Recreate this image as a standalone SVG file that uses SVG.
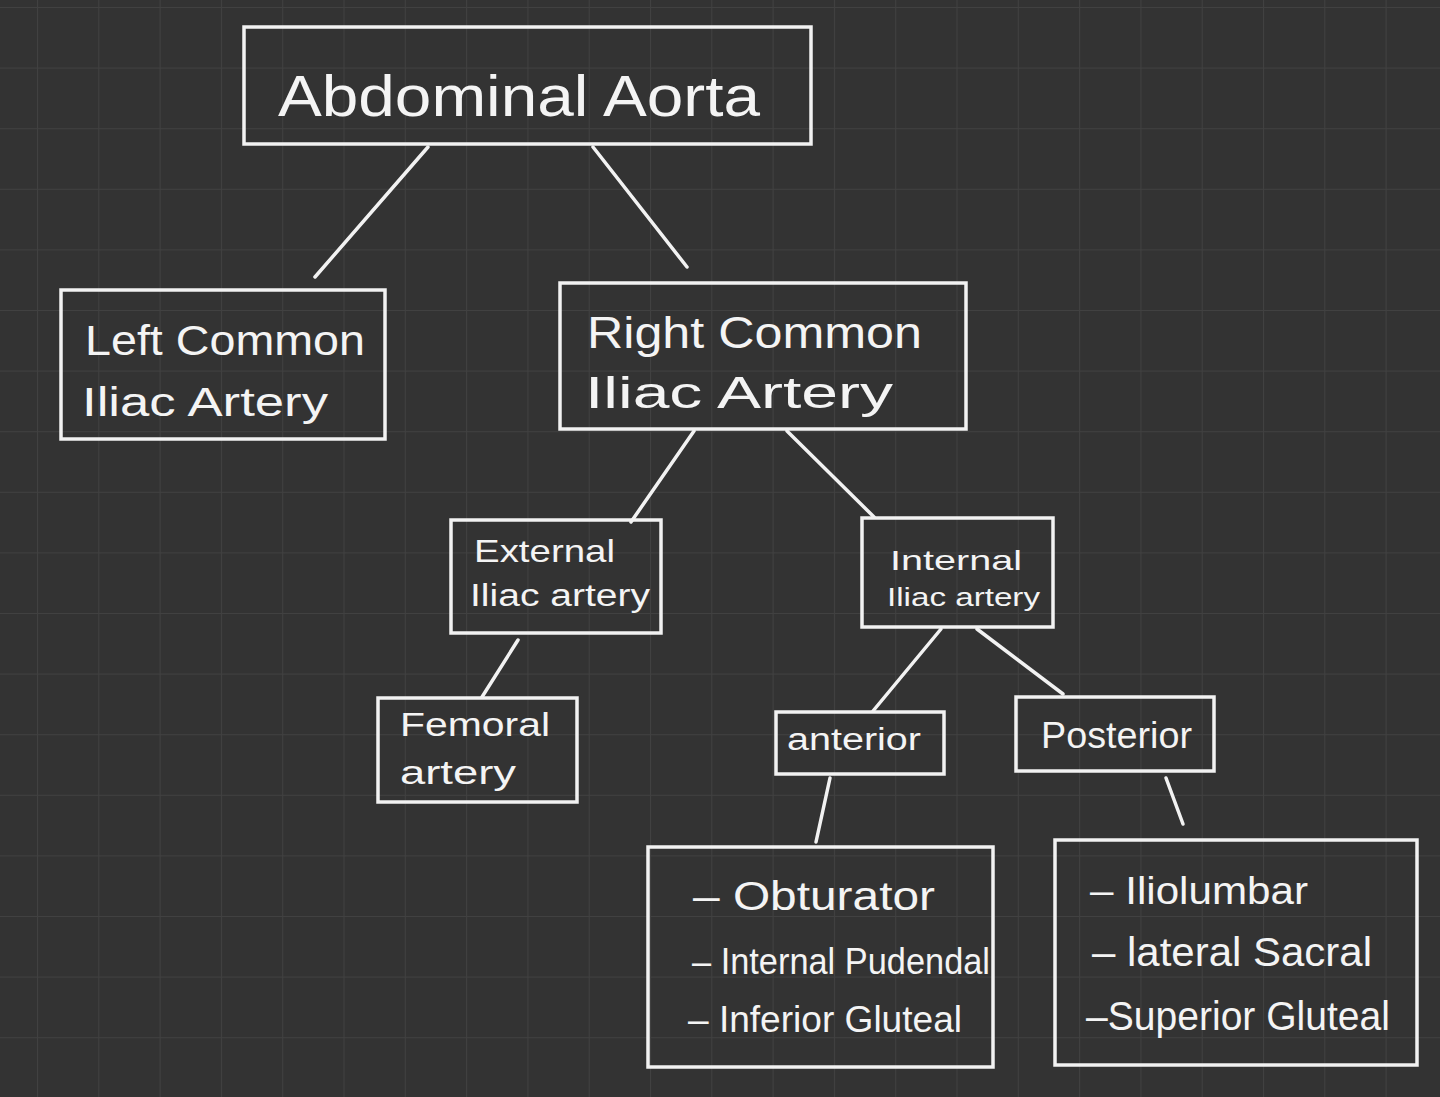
<svg xmlns="http://www.w3.org/2000/svg" width="1440" height="1097" viewBox="0 0 1440 1097">
<defs>
<pattern id="grid" x="37" y="7" width="61.3" height="60.6" patternUnits="userSpaceOnUse">
<path d="M0 0 V60.6 M0 0 H61.3" fill="none" stroke="#414141" stroke-width="2"/>
</pattern>
<style>
.box{fill:none;stroke:#f2f2f2;stroke-width:3.5}
.conn line{stroke:#f2f2f2;stroke-width:3.5;stroke-linecap:round}
text{fill:#f4f4f4;font-family:"Liberation Sans","DejaVu Sans",sans-serif}
</style>
</defs>
<rect width="1440" height="1097" fill="#333333"/>
<rect width="1440" height="1097" fill="url(#grid)"/>

<g id="connectors" class="conn">
<line x1="428" y1="147" x2="315" y2="277"/>
<line x1="593" y1="147" x2="687" y2="267"/>
<line x1="694" y1="431" x2="631" y2="522"/>
<line x1="787" y1="431" x2="874" y2="517"/>
<line x1="518" y1="640" x2="482" y2="697"/>
<line x1="941" y1="629" x2="873" y2="711"/>
<line x1="977" y1="629" x2="1063" y2="694"/>
<line x1="830" y1="778" x2="816" y2="842"/>
<line x1="1166" y1="778" x2="1183" y2="824"/>
</g>

<g id="abdominal-aorta">
<rect class="box" x="244" y="27" width="567" height="117"/>
<text x="278" y="116" font-size="58" textLength="482" lengthAdjust="spacingAndGlyphs">Abdominal Aorta</text>
</g>

<g id="left-common-iliac">
<rect class="box" x="61" y="290" width="324" height="149"/>
<text x="85" y="355" font-size="42" textLength="280" lengthAdjust="spacingAndGlyphs">Left Common</text>
<text x="82" y="416" font-size="40" textLength="246" lengthAdjust="spacingAndGlyphs">Iliac Artery</text>
</g>

<g id="right-common-iliac">
<rect class="box" x="560" y="283" width="406" height="146"/>
<text x="587" y="348" font-size="44" textLength="335" lengthAdjust="spacingAndGlyphs">Right Common</text>
<text x="585" y="408" font-size="44" textLength="308" lengthAdjust="spacingAndGlyphs">Iliac Artery</text>
</g>

<g id="external-iliac">
<rect class="box" x="451" y="520" width="210" height="113"/>
<text x="474" y="562" font-size="32" textLength="141" lengthAdjust="spacingAndGlyphs">External</text>
<text x="470" y="606" font-size="31" textLength="180" lengthAdjust="spacingAndGlyphs">Iliac artery</text>
</g>

<g id="internal-iliac">
<rect class="box" x="862" y="518" width="191" height="109"/>
<text x="890" y="570" font-size="28" textLength="132" lengthAdjust="spacingAndGlyphs">Internal</text>
<text x="887" y="606" font-size="26" textLength="153" lengthAdjust="spacingAndGlyphs">Iliac artery</text>
</g>

<g id="femoral-artery">
<rect class="box" x="378" y="698" width="199" height="104"/>
<text x="400" y="736" font-size="34" textLength="150" lengthAdjust="spacingAndGlyphs">Femoral</text>
<text x="400" y="784" font-size="34" textLength="116" lengthAdjust="spacingAndGlyphs">artery</text>
</g>

<g id="anterior">
<rect class="box" x="776" y="712" width="168" height="62"/>
<text x="787" y="750" font-size="31" textLength="134" lengthAdjust="spacingAndGlyphs">anterior</text>
</g>

<g id="posterior">
<rect class="box" x="1016" y="697" width="198" height="74"/>
<text x="1041" y="748" font-size="36" textLength="151" lengthAdjust="spacingAndGlyphs">Posterior</text>
</g>

<g id="anterior-branches">
<rect class="box" x="648" y="847" width="345" height="220"/>
<text x="693" y="910" font-size="40" textLength="242" lengthAdjust="spacingAndGlyphs">– Obturator</text>
<text x="692" y="974" font-size="36" textLength="298" lengthAdjust="spacingAndGlyphs">– Internal Pudendal</text>
<text x="688" y="1032" font-size="36" textLength="274" lengthAdjust="spacingAndGlyphs">– Inferior Gluteal</text>
</g>

<g id="posterior-branches">
<rect class="box" x="1055" y="840" width="362" height="225"/>
<text x="1090" y="904" font-size="38" textLength="218" lengthAdjust="spacingAndGlyphs">– Iliolumbar</text>
<text x="1092" y="966" font-size="40" textLength="280" lengthAdjust="spacingAndGlyphs">– lateral Sacral</text>
<text x="1086" y="1030" font-size="40" textLength="304" lengthAdjust="spacingAndGlyphs">–Superior Gluteal</text>
</g>
</svg>
